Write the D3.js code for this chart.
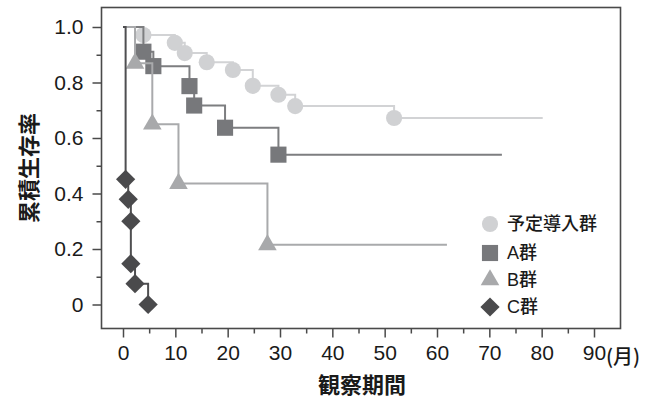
<!DOCTYPE html>
<html>
<head>
<meta charset="utf-8">
<script src="https://cdn.jsdelivr.net/npm/d3@7"></script>
<style>
  html, body { margin: 0; padding: 0; background: #fff; }
  svg { display: block; }
</style>
</head>
<body>
<svg id="chart" width="670" height="403"></svg>
<script>
// Kaplan–Meier style survival curves, one step line per group
const groupNames = ["予定導入群", "A群", "B群", "C群"];

const plannedTimes = [0, 3.9, 9.9, 11.8, 16.0, 21.0, 24.8, 29.7, 32.9, 51.8];
const plannedSurv  = [1.0, 0.971, 0.943, 0.906, 0.873, 0.845, 0.788, 0.756, 0.715, 0.672];
const plannedEnd   = 80.2;

const aTimes = [0, 3.9, 5.8, 12.7, 13.6, 19.5, 29.7];
const aSurv  = [1.0, 0.911, 0.859, 0.787, 0.717, 0.637, 0.540];
const aEnd   = 72.4;

const bTimes = [0, 2.3, 5.6, 10.6, 27.6];
const bSurv  = [1.0, 0.869, 0.650, 0.436, 0.215];
const bEnd   = 61.9;

const cTimes = [0, 0.5, 1.0, 1.5, 1.5, 2.3, 4.8];
const cSurv  = [1.0, 0.451, 0.379, 0.300, 0.147, 0.075, 0.0];
const cEnd   = 4.8;

const xMajorTicks = [0, 10, 20, 30, 40, 50, 60, 70, 80, 90];
const xMinorTicks = [5, 15, 25, 35, 45, 55, 65, 75, 85];
const yMajorTicks = [0, 0.2, 0.4, 0.6, 0.8, 1.0];
const yMinorTicks = [0.1, 0.3, 0.5, 0.7, 0.9];

const xTitle = "観察期間";
const yTitle = "累積生存率";
const xUnit = "(月)";

const svg = d3.select("#chart");

const x = d3.scaleLinear().domain([0, 90]).range([123, 594]);
const y = d3.scaleLinear().domain([0, 1]).range([304.5, 27]);

const frame = { left: 101.5, right: 620.5, top: 7.5, bottom: 328.5 };

const latin = "'Liberation Sans', Arial, Helvetica, sans-serif";
const cjk = "'Liberation Sans', 'Noto Sans CJK JP', sans-serif";

// frame
svg.append("rect")
  .attr("x", frame.left).attr("y", frame.top)
  .attr("width", frame.right - frame.left)
  .attr("height", frame.bottom - frame.top)
  .attr("fill", "none")
  .attr("stroke", "#4a4a4a")
  .attr("stroke-width", 1.6);

// x axis ticks
const xAxisG = svg.append("g").attr("transform", `translate(0,${frame.bottom})`);
xAxisG.call(d3.axisBottom(x).tickValues(xMajorTicks).tickSize(9).tickPadding(8).tickFormat(d3.format("d")));
const xMinorG = svg.append("g").attr("transform", `translate(0,${frame.bottom})`);
xMinorG.call(d3.axisBottom(x).tickValues(xMinorTicks).tickSize(5).tickFormat(""));

// y axis ticks
const yAxisG = svg.append("g").attr("transform", `translate(${frame.left},0)`);
yAxisG.call(d3.axisLeft(y).tickValues(yMajorTicks).tickSize(9).tickPadding(9)
  .tickFormat(d => d === 0 ? "0" : d3.format(".1f")(d)));
const yMinorG = svg.append("g").attr("transform", `translate(${frame.left},0)`);
yMinorG.call(d3.axisLeft(y).tickValues(yMinorTicks).tickSize(5).tickFormat(""));

[xAxisG, xMinorG, yAxisG, yMinorG].forEach(g => {
  g.select(".domain").remove();
  g.selectAll(".tick line").attr("stroke", "#4a4a4a").attr("stroke-width", 1.5);
  g.selectAll(".tick text")
    .attr("fill", "#1a1a1a")
    .style("font-family", latin)
    .style("font-size", "21px");
});

// unit next to the last x tick label
svg.append("text")
  .attr("x", x(90) + 12)
  .attr("y", 364)
  .attr("fill", "#1a1a1a")
  .style("font-family", "'Noto Sans CJK JP', sans-serif")
  .style("font-size", "20px")
  .style("font-weight", "500")
  .text(xUnit);

// axis titles
svg.append("text")
  .attr("x", 362)
  .attr("y", 393)
  .attr("text-anchor", "middle")
  .attr("fill", "#1a1a1a")
  .style("font-family", "'Noto Sans CJK JP', sans-serif")
  .style("font-size", "22px")
  .style("font-weight", "bold")
  .text(xTitle);

svg.append("text")
  .attr("transform", "translate(37,168) rotate(-90)")
  .attr("text-anchor", "middle")
  .attr("fill", "#1a1a1a")
  .style("font-family", "'Noto Sans CJK JP', sans-serif")
  .style("font-size", "22px")
  .style("font-weight", "bold")
  .text(yTitle);

// series
function rows(times, surv) {
  return times.map((t, i) => ({ t, s: surv[i] }));
}

const diamond = d3.symbol().type(d3.symbolSquare).size(185)();

const series = [
  { name: groupNames[0], pts: rows(plannedTimes, plannedSurv), end: plannedEnd,
    line: "#d2d3d5", fill: "#d0d1d3", shape: d3.symbol().type(d3.symbolCircle).size(205)(), rot: 0 },
  { name: groupNames[1], pts: rows(aTimes, aSurv), end: aEnd,
    line: "#7d7e80", fill: "#77787b", shape: d3.symbol().type(d3.symbolSquare).size(260)(), rot: 0 },
  { name: groupNames[2], pts: rows(bTimes, bSurv), end: bEnd,
    line: "#a9aaac", fill: "#a8a9ab", shape: d3.symbol().type(d3.symbolTriangle).size(150)(), rot: 0 },
  { name: groupNames[3], pts: rows(cTimes, cSurv), end: cEnd,
    line: "#4f4f51", fill: "#4a4a4c", shape: diamond, rot: 45 }
];

const stepLine = d3.line()
  .x(d => x(d.t))
  .y(d => y(d.s))
  .curve(d3.curveStepAfter);

series.forEach(sr => {
  const last = sr.pts[sr.pts.length - 1];
  const path = sr.pts.concat(sr.end > last.t ? [{ t: sr.end, s: last.s }] : []);
  const g = svg.append("g");
  g.append("path")
    .attr("d", stepLine(path))
    .attr("fill", "none")
    .attr("stroke", sr.line)
    .attr("stroke-width", 2);
  g.selectAll("path.mark")
    .data(sr.pts.slice(1))
    .join("path")
    .attr("class", "mark")
    .attr("d", sr.shape)
    .attr("transform", d => `translate(${x(d.t)},${y(d.s)}) rotate(${sr.rot})`)
    .attr("fill", sr.fill);
});

// legend
const legend = svg.append("g").attr("transform", "translate(490,224)");
const legendRows = legend.selectAll("g")
  .data(series)
  .join("g")
  .attr("transform", (d, i) => `translate(0,${[0, 29, 56, 83][i]})`);
legendRows.append("path")
  .attr("d", d => d.shape)
  .attr("transform", d => `rotate(${d.rot})`)
  .attr("fill", d => d.fill);
legendRows.append("text")
  .attr("x", 17)
  .attr("dy", "0.36em")
  .attr("fill", "#1a1a1a")
  .style("font-family", cjk)
  .style("font-size", "18px")
  .style("font-weight", "500")
  .text(d => d.name);
</script>
</body>
</html>
